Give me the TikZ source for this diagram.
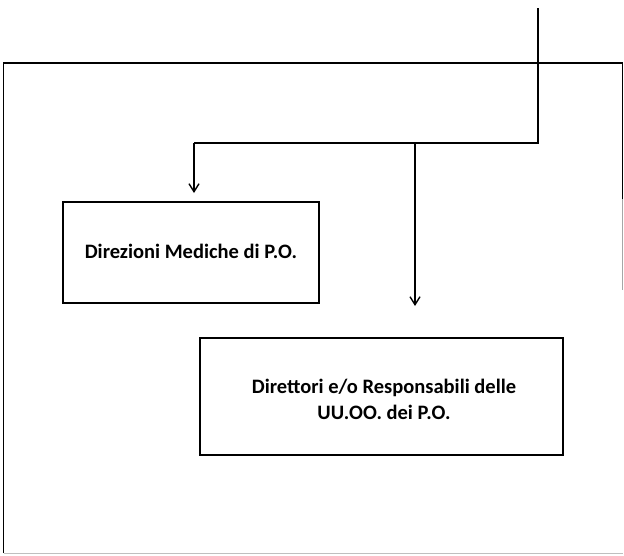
\documentclass[tikz,border=0pt]{standalone}
\usepackage{fontspec}
\setmainfont{Carlito}
\usetikzlibrary{arrows.meta}
\begin{document}
\begin{tikzpicture}[x=1pt,y=-1pt,
  line/.style={draw=black,line width=1.3pt},
  faint/.style={draw=black!25,line width=1pt},
  orgbox/.style={draw=black,line width=1.2pt,fill=none},
  conn/.style={line,-{Straight Barb[length=8pt,width=10pt,line width=1.4pt]}},
  lbl/.style={font=\fontsize{20.5}{26}\selectfont\bfseries,align=center,inner sep=0pt}]
\useasboundingbox (0,0) rectangle (624,555);
% outer frame
\coordinate (fTL) at (3.5,63);
\coordinate (fTR) at (622.5,63);
\coordinate (fBL) at (3.5,553);
\coordinate (fBR) at (622.5,553);
\draw[line] (fBL) -- (fTL) -- (fTR) -- (622.5,200);
\draw[draw=black!35,line width=1pt] (622.5,199) -- (622.5,290);
\draw[faint] (fBL) -- (fBR);
% boxes
\draw[orgbox] (63,202) rectangle (319,303);
\node[lbl] (b1) at (191,251) {Direzioni Mediche di P.O.};
\draw[orgbox] (200,338) rectangle (563,455);
\node[lbl] (b2) at (384,399) {Direttori e/o Responsabili delle\\UU.OO. dei P.O.};
% connectors
\coordinate (top) at (538,8);
\coordinate (j) at (538,143);
\coordinate (h1) at (194,143);
\coordinate (h2) at (415,143);
\coordinate (a1) at (194,193);
\coordinate (a2) at (415,306);
\draw[line] (top) -- (j) -- (h1);
\draw[conn] (h1) -- (a1);
\draw[conn] (h2) -- (a2);
\end{tikzpicture}
\end{document}
